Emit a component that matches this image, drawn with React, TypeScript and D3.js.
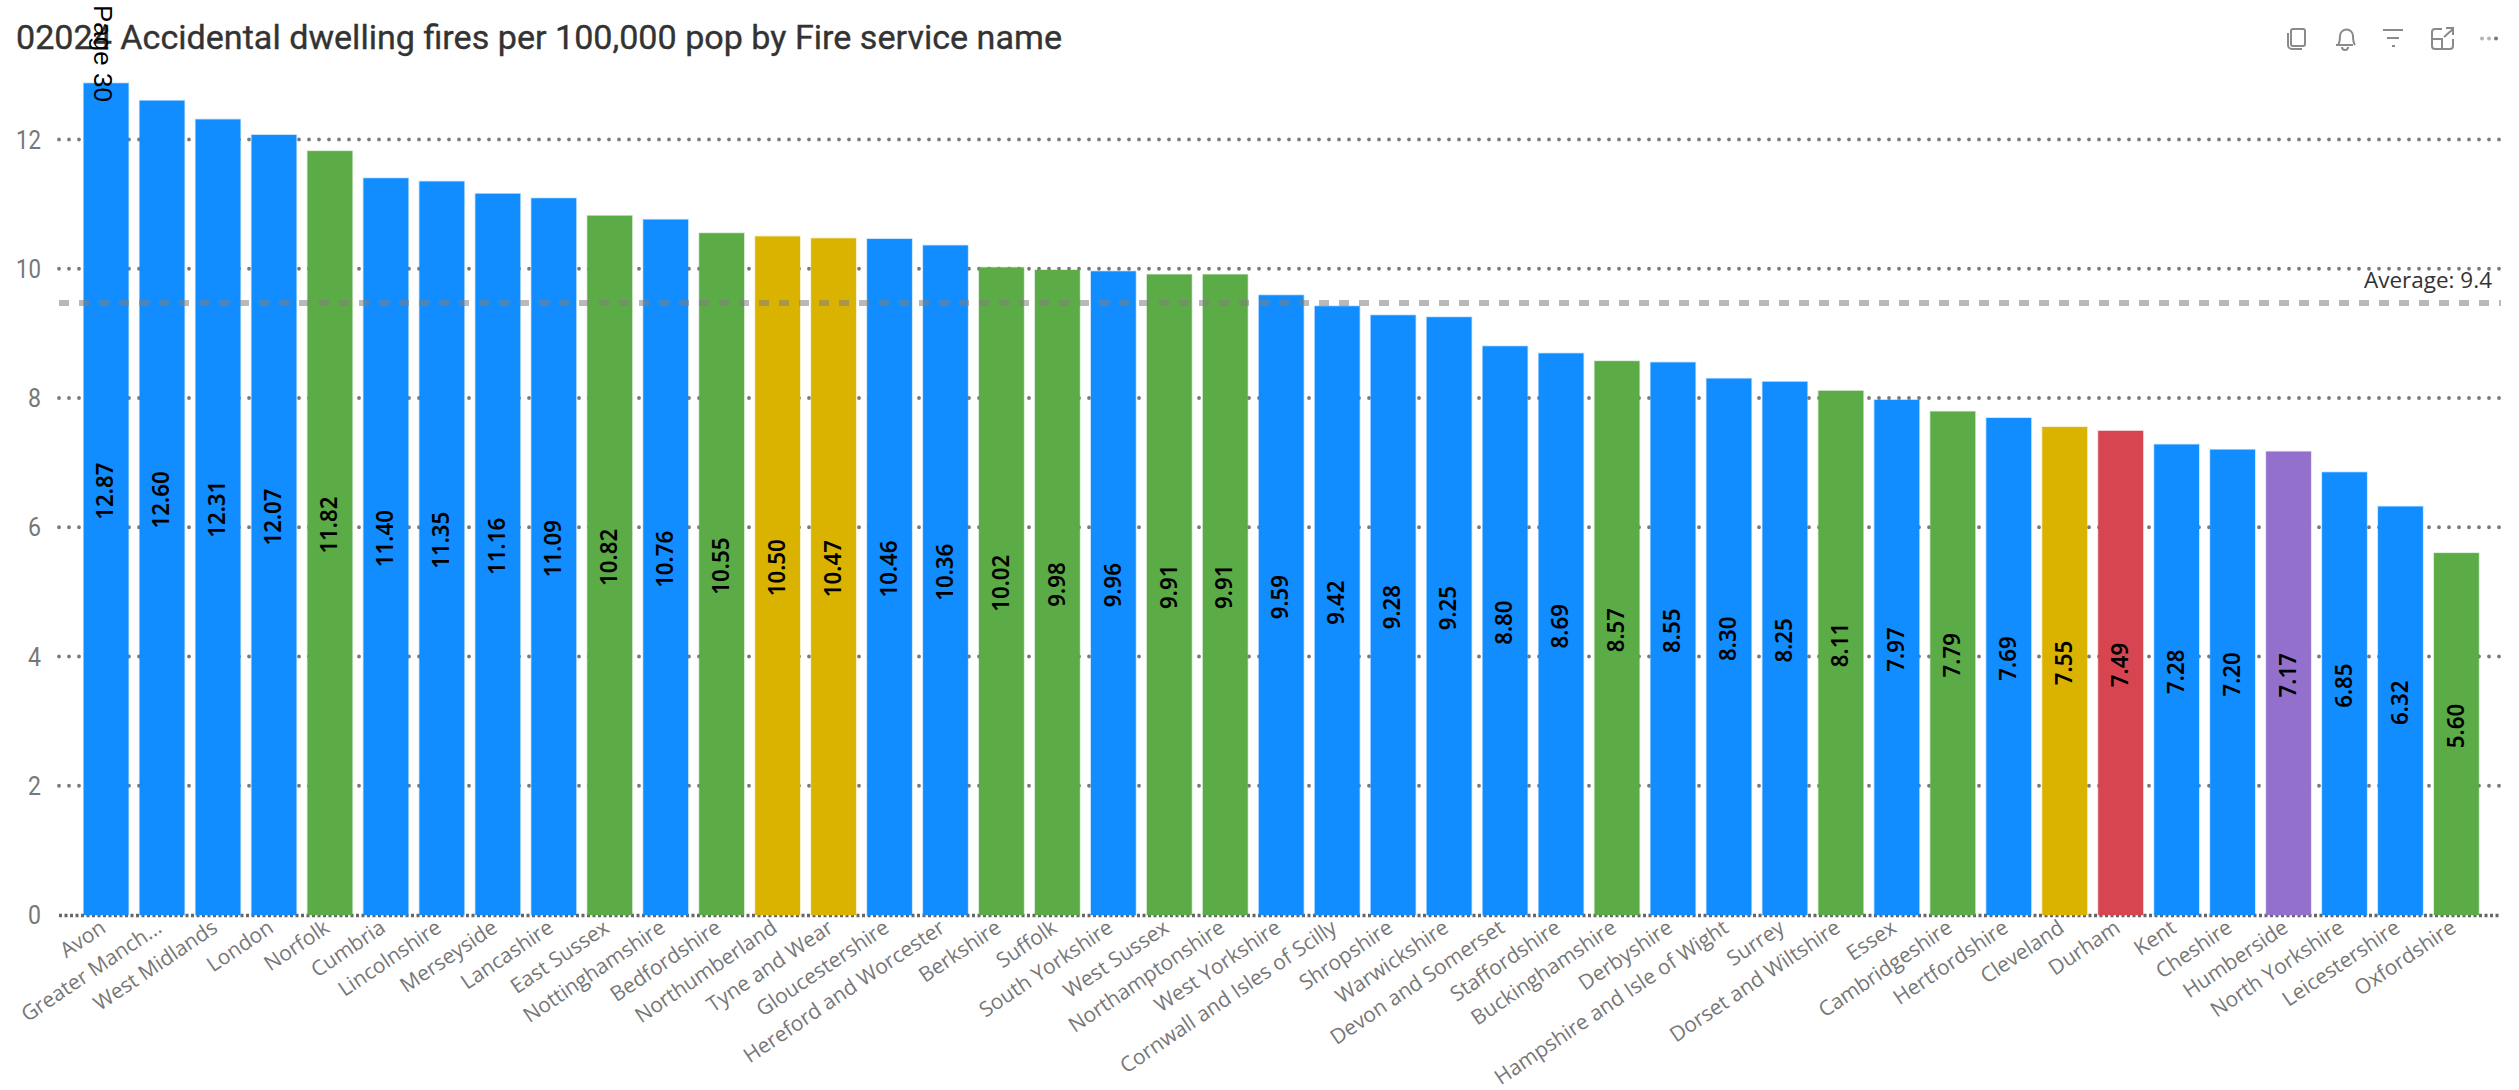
import React from "react";
import * as d3 from "d3";

const titleText = "02024 Accidental dwelling fires per 100,000 pop by Fire service name";
const pageText = "Page 30";
const categories = ["Avon","Greater Manch...","West Midlands","London","Norfolk","Cumbria","Lincolnshire","Merseyside","Lancashire","East Sussex","Nottinghamshire","Bedfordshire","Northumberland","Tyne and Wear","Gloucestershire","Hereford and Worcester","Berkshire","Suffolk","South Yorkshire","West Sussex","Northamptonshire","West Yorkshire","Cornwall and Isles of Scilly","Shropshire","Warwickshire","Devon and Somerset","Staffordshire","Buckinghamshire","Derbyshire","Hampshire and Isle of Wight","Surrey","Dorset and Wiltshire","Essex","Cambridgeshire","Hertfordshire","Cleveland","Durham","Kent","Cheshire","Humberside","North Yorkshire","Leicestershire","Oxfordshire"];
const values = [12.87,12.60,12.31,12.07,11.82,11.40,11.35,11.16,11.09,10.82,10.76,10.55,10.50,10.47,10.46,10.36,10.02,9.98,9.96,9.91,9.91,9.59,9.42,9.28,9.25,8.80,8.69,8.57,8.55,8.30,8.25,8.11,7.97,7.79,7.69,7.55,7.49,7.28,7.20,7.17,6.85,6.32,5.60];
const groups = ["b","b","b","b","g","b","b","b","b","g","b","g","y","y","b","b","g","g","b","g","g","b","b","b","b","b","b","g","b","b","b","g","b","g","b","y","r","b","b","p","b","b","g"];
const groupKeys = ["b","g","y","r","p"];
const groupColors = ["#118DFF","#5BAB46","#D9B300","#D64550","#9470CD"];
const yTicks = [0,2,4,6,8,10,12];
const averageValue = 9.47;
const averageLabel = "Average: 9.4";

const W = 2519, H = 1090;
const x = d3.scaleBand<string>().domain(categories).range([78.1, 2484.4]).paddingInner(0.2).paddingOuter(0.1);
const y = d3.scaleLinear().domain([0, 12]).range([915, 139.5]);
const color = d3.scaleOrdinal<string>().domain(groupKeys).range(groupColors);
const SANS = "'Open Sans', 'Noto Sans', sans-serif";
const GRID_L = 59, GRID_R = 2501;

export default function App() {
  const bw = x.bandwidth();
  return (
    <svg width={W} height={H} viewBox={`0 0 ${W} ${H}`} style={{ position: "absolute", left: 0, top: 0, display: "block", background: "#fff" }}>
      <text x={16} y={49} fontFamily="Roboto, sans-serif" fontWeight={400} fontSize={33} fill="#333" stroke="#333" strokeWidth={0.35} textLength={1046} lengthAdjust="spacingAndGlyphs">{titleText}</text>

      {yTicks.filter(t => t > 0).map(t => (
        <line key={t} x1={GRID_L} x2={GRID_R} y1={y(t)} y2={y(t)} stroke="#7a7a7a" strokeWidth={3.8} strokeLinecap="round" strokeDasharray="0 10" />
      ))}
      <line x1={GRID_L} x2={GRID_R} y1={y(0) + 0.5} y2={y(0) + 0.5} stroke="#666" strokeWidth={3.5} strokeDasharray="3 2.5" />
      {yTicks.map(t => (
        <text key={t} x={41} y={y(t) + 9} textAnchor="end" fontFamily="Roboto, sans-serif" fontSize={26} fill="#777" textLength={t >= 10 ? 25 : 13} lengthAdjust="spacingAndGlyphs">{t}</text>
      ))}

      {categories.map((c, i) => (
        <rect key={c} x={x(c)} y={y(values[i])} width={bw} height={y(0) - y(values[i])} fill={color(groups[i])} stroke={color(groups[i])} strokeOpacity={0.3} strokeWidth={1.5} />
      ))}

      <line x1={GRID_L} x2={GRID_R} y1={y(averageValue)} y2={y(averageValue)} stroke="#7f7f7f" strokeOpacity={0.55} strokeWidth={6} strokeDasharray="10 10" />
      <text x={2492} y={288} textAnchor="end" fontFamily={SANS} fontSize={22.5} fill="#333">{averageLabel}</text>

      {categories.map((c, i) => (
        <text key={c} transform={`translate(${x(c)! + bw / 2 - 1.5},${(y(values[i]) + y(0)) / 2 - 8}) rotate(-90) scale(1,1.08)`} textAnchor="middle" dy="0.36em" fontFamily="'Noto Sans', sans-serif" fontWeight={600} fontSize={22.3} fill="#000">{values[i].toFixed(2)}</text>
      ))}

      {categories.map((c) => (
        <text key={c} transform={`translate(${x(c)! + bw / 2 + 1},${931}) rotate(-34)`} textAnchor="end" fontFamily={SANS} fontSize={21} fill="#777">{c}</text>
      ))}

      <text transform="translate(94,5) rotate(90)" fontFamily="'Liberation Sans', Arial, sans-serif" fontSize={26} fill="#000">{pageText}</text>

      <g fill="none" stroke="#8a8a8a" strokeWidth={2}>
        <rect x={2291} y={29} width={14} height={17} rx={2} />
        <path d="M2288 33v12a4 4 0 0 0 4 4h10" />
        <path d="M2338 46h17M2340 46c2-3 2-5 2-9a6.5 6.5 0 0 1 13 0c0 4 0 6 2 9M2344 48a3 3 0 0 0 6 0" transform="translate(-2,-1)" />
        <path d="M2383 30h20M2387 38h12M2392 46h3" />
        <path d="M2442 29h-7a3 3 0 0 0-3 3v14a3 3 0 0 0 3 3h15a3 3 0 0 0 3-3v-7M2432 39h10v10M2444 37l9-8M2446 28h7v7" />
      </g>
      <circle cx={2482} cy={38.5} r={2} fill="#b5b5b5" />
      <circle cx={2489} cy={38.5} r={2} fill="#b5b5b5" />
      <circle cx={2496} cy={38.5} r={2} fill="#777" />
    </svg>
  );
}
